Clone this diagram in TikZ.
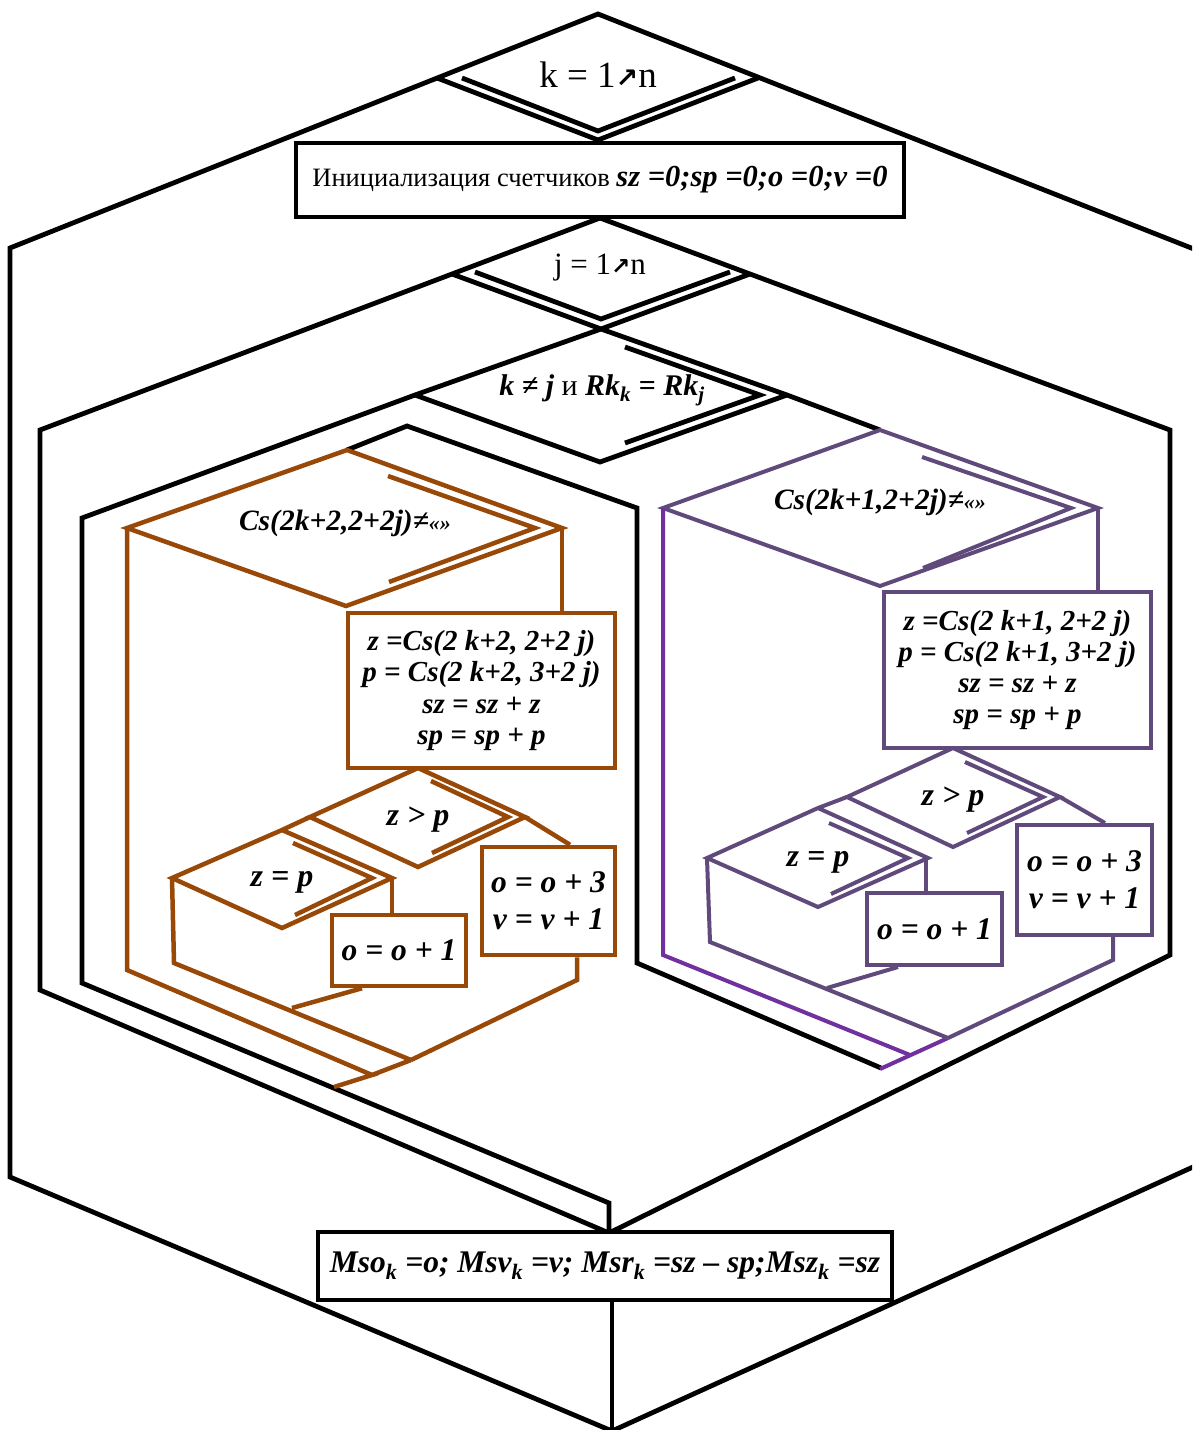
\documentclass[tikz,border=0pt]{standalone}
\usepackage{fontspec}
\setmainfont{Liberation Serif}
\newfontfamily\arrowfont{DejaVu Sans}
\definecolor{brn}{HTML}{984807}
\definecolor{pmut}{HTML}{604A7B}
\definecolor{pbri}{HTML}{7030A0}
\newcommand{\uparr}[1]{{\arrowfont\bfseries\fontsize{#1}{#1}\selectfont ↗}}
\begin{document}
\begin{tikzpicture}[x=1pt,y=-1pt,
  bl/.style={draw=black,line width=4.8pt},
  br/.style={draw=brn,line width=4.5pt},
  pm/.style={draw=pmut,line width=4pt},
  pb/.style={draw=pbri,line width=4pt},
  box/.style={fill=white,line width=4.8pt,inner sep=0pt,align=center},
  pbox/.style={box,line width=4pt,draw=pmut},
  obox/.style={box,line width=4.5pt,draw=brn},
  lbl/.style={inner sep=0pt,align=center},
]
\useasboundingbox (0,0) rectangle (1192,1430);
\clip (0,0) rectangle (1192,1430);

% ---------- outer loop over k ----------
\coordinate (kT) at (598,14);
\coordinate (kL) at (437,78);
\coordinate (kR) at (758,78);
\coordinate (kB) at (598,140);
\coordinate (kHL1) at (10,248);
\coordinate (kHL2) at (10,1177);
\coordinate (kHB) at (612,1431);
\coordinate (kHR1) at (1204,253);
\coordinate (kHR2) at (1204,1162);
\draw[bl] (kHL2)--(kHL1)--(kT)--(kHR1)--(kHR2)--(kHB)--cycle;
\draw[bl] (kL)--(kB)--(kR);
\draw[bl] (462,78)--(598,131)--(735,78);

% ---------- loop over j ----------
\coordinate (jT) at (600,218);
\coordinate (jL) at (452,274);
\coordinate (jR) at (750,274);
\coordinate (jB) at (601,329);
\coordinate (jHL1) at (40,430);
\coordinate (jHL2) at (40,990);
\coordinate (jHB) at (609,1233);
\coordinate (jHR1) at (1170,430);
\coordinate (jHR2) at (1170,955);
\draw[bl] (jHB)--(jHL2)--(jHL1)--(jL)--(jT)--(jR)--(jHR1)--(jHR2)--cycle;
\draw[bl] (jL)--(jB)--(jR);
\draw[bl] (475,272)--(601,319)--(730,272);

% ---------- condition k /= j ----------
\coordinate (cT) at (601,329);
\coordinate (cL) at (415,395);
\coordinate (cB) at (600,462);
\coordinate (cR) at (787,395);
\coordinate (cHL1) at (82,518);
\coordinate (cHL2) at (82,983);
\coordinate (cHB) at (609,1203);
\coordinate (pT) at (880,430);
\draw[bl] (pT)--(cR)--(cT)--(cL)--(cHL1)--(cHL2)--(cHB)--(jHB);
\draw[bl] (cL)--(cB)--(cR);
\draw[bl] (625,347)--(760,395)--(625,443);

% middle frame between the two branches
\draw[bl] (347,450)--(407,426)--(637,508)--(637,963)--(881,1068);

% ---------- left branch (brown) ----------
\coordinate (oT) at (347,450);
\coordinate (oL) at (127,528);
\coordinate (oB) at (346,606);
\coordinate (oR) at (562,528);
\draw[br] (oT)--(oL)--(oB)--(oR)--cycle;
\draw[br] (388,476)--(535,528)--(389,582);
\draw[br] (oL)--(127,970)--(372,1075)--(334,1087);
\draw[br] (411,1060)--(372,1075);
% z > p
\coordinate (gT) at (418,768);
\coordinate (gL) at (310,817);
\coordinate (gR) at (525,817);
\coordinate (gB) at (418,867);
\draw[br] (gT)--(gL)--(gB)--(gR)--cycle;
\draw[br] (431,781)--(508,817)--(432,853);
% z = p
\coordinate (eT) at (282,830);
\coordinate (eL) at (172,878);
\coordinate (eR) at (392,878);
\coordinate (eB) at (282,928);
\draw[br] (gL)--(eT)--(eL)--(eB)--(eR)--(eT);
\draw[br] (293,843)--(372,878)--(295,915);
\draw[br] (eL)--(174,963)--(411,1060);

% ---------- right branch (purple) ----------
\coordinate (pL) at (663,508);
\coordinate (pB) at (880,586);
\coordinate (pR) at (1098,508);
\draw[pm] (pT)--(pL)--(pB)--(pR)--cycle;
\draw[pm] (922,457)--(1071,508)--(923,568);
\draw[pb] (pL)--(663,955)--(910,1055);
\draw[pb] (880,1069)--(948,1038);
% z > p
\coordinate (qT) at (953,748);
\coordinate (qL) at (847,797);
\coordinate (qR) at (1060,797);
\coordinate (qB) at (953,847);
\draw[pm] (qT)--(qL)--(qB)--(qR)--cycle;
\draw[pm] (965,762)--(1043,797)--(967,833);
% z = p
\coordinate (fT) at (818,808);
\coordinate (fL) at (707,858);
\coordinate (fR) at (928,858);
\coordinate (fB) at (818,907);
\draw[pm] (qL)--(fT)--(fL)--(fB)--(fR)--(fT);
\draw[pm] (829,823)--(908,858)--(831,894);
\draw[pm] (fL)--(710,942)--(948,1038);

% ---------- boxes ----------
\node[box,draw=black,minimum width=608,minimum height=74] (init) at (600,180)
  {\fontsize{26.5}{26.5}\selectfont Инициализация счетчиков {\bfseries\itshape\fontsize{30.5}{30.5}\selectfont sz =0;sp =0;o =0;v =0}};

\node[obox,minimum width=267,minimum height=155,font=\bfseries\itshape\fontsize{29}{31.5}\selectfont] (ob) at (481.5,690.5)
  {z =Cs(2 k+2, 2+2 j)\\ p = Cs(2 k+2, 3+2 j)\\ sz = sz + z\\ sp = sp + p};
\node[obox,minimum width=133,minimum height=108,font=\bfseries\itshape\fontsize{31.5}{37}\selectfont] (oth) at (548.5,901)
  {o = o + 3\\ v = v + 1};
\node[obox,minimum width=134,minimum height=71,font=\bfseries\itshape\fontsize{31.5}{31.5}\selectfont] (oon) at (399,950.5)
  {o = o + 1};

\node[pbox,minimum width=267,minimum height=156,font=\bfseries\itshape\fontsize{29}{31}\selectfont] (pbx) at (1017.5,670)
  {z =Cs(2 k+1, 2+2 j)\\ p = Cs(2 k+1, 3+2 j)\\ sz = sz + z\\ sp = sp + p};
\node[pbox,minimum width=135,minimum height=110,font=\bfseries\itshape\fontsize{31.5}{37}\selectfont] (pth) at (1084.5,880)
  {o = o + 3\\ v = v + 1};
\node[pbox,minimum width=135,minimum height=72,font=\bfseries\itshape\fontsize{31.5}{31.5}\selectfont] (pon) at (934.5,929)
  {o = o + 1};

\node[box,draw=black,minimum width=574,minimum height=68] (fin) at (605,1266)
  {\bfseries\itshape\fontsize{31.5}{31.5}\selectfont Mso\textsubscript{k} =o; Msv\textsubscript{k} =v; Msr\textsubscript{k} =sz – sp;Msz\textsubscript{k} =sz};

% ---------- connectors to the boxes ----------
\draw[br] (oR)--(ob.north -| oR);
\draw[br] (gR)--(oth.north -| 570,0);
\draw[br] (eR)--(oon.north -| eR);
\draw[br] (oon.south -| 362,0)--(292,1008);
\draw[br] (oth.south -| 577,0)--(577,980)--(411,1060);
\draw[pm] (pR)--(pbx.north -| pR);
\draw[pm] (qR)--(pth.north -| 1105,0);
\draw[pm] (926,858)--(pon.north -| 926,0);
\draw[pm] (pon.south -| 898,0)--(827,988);
\draw[pm] (pth.south -| 1113,0)--(1113,960)--(948,1038);
\draw[bl] (fin.south -| 612,0)--(kHB);

% ---------- labels ----------
\node[lbl] (tk) at (598,75) {\fontsize{37}{37}\selectfont k = 1\uparr{27}n};
\node[lbl] (tj) at (600,268) {\fontsize{31}{31}\selectfont j = 1\uparr{23}n};
\node[lbl] (tc) at (602,390) {\bfseries\itshape\fontsize{30}{30}\selectfont k ≠ j {\mdseries\upshape и} Rk\textsubscript{k} = Rk\textsubscript{j}};
\node[lbl] (to) at (345,523) {\bfseries\itshape\fontsize{29.5}{29.5}\selectfont Cs(2k+2,2+2j)≠{\fontsize{22}{22}\selectfont «»}};
\node[lbl] (tp) at (880,502) {\bfseries\itshape\fontsize{29.5}{29.5}\selectfont Cs(2k+1,2+2j)≠{\fontsize{22}{22}\selectfont «»}};
\node[lbl] (tog) at (418,820) {\bfseries\itshape\fontsize{32}{32}\selectfont z > p};
\node[lbl] (toe) at (282,882) {\bfseries\itshape\fontsize{32}{32}\selectfont z = p};
\node[lbl] (tpg) at (953,800) {\bfseries\itshape\fontsize{32}{32}\selectfont z > p};
\node[lbl] (tpe) at (818,862) {\bfseries\itshape\fontsize{32}{32}\selectfont z = p};
\end{tikzpicture}
\end{document}
